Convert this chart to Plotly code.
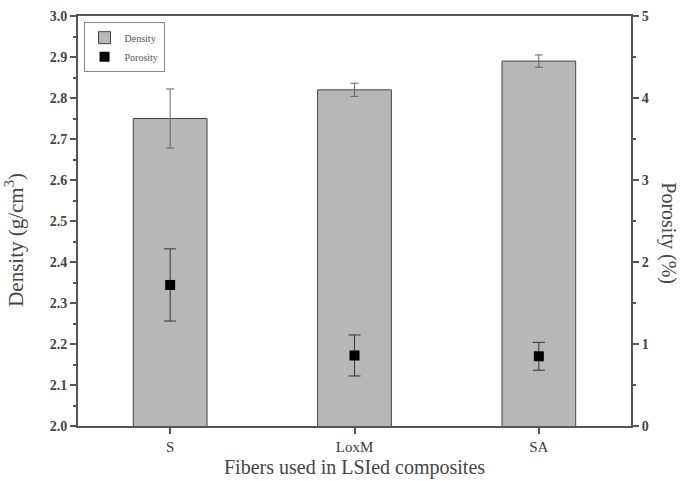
import plotly.graph_objects as go

fibers = ["S", "LoxM", "SA"]
density = [2.75, 2.82, 2.89]
density_err = [0.072, 0.016, 0.015]
porosity = [1.72, 0.86, 0.85]
porosity_err = [0.44, 0.25, 0.17]

font_family = "Liberation Serif, Times New Roman, serif"
axis_col = "#555555"
text_col = "#3a3a3a"

fig = go.Figure()
fig.add_trace(go.Bar(
    x=fibers, y=density, name="Density", width=0.4,
    marker=dict(color="#b7b7b7", line=dict(color="#444444", width=1)),
    error_y=dict(type="data", array=density_err, color="#666666", thickness=1, width=4),
    yaxis="y",
))
fig.add_trace(go.Scatter(
    x=fibers, y=porosity, name="Porosity", mode="markers",
    marker=dict(symbol="square", color="black", size=10),
    error_y=dict(type="data", array=porosity_err, color="#333333", thickness=1, width=6),
    yaxis="y2",
))

fig.update_layout(
    width=680, height=481,
    margin=dict(l=78, r=49, t=16, b=55),
    paper_bgcolor="white", plot_bgcolor="white",
    font=dict(family=font_family, color=text_col),
    showlegend=True,
    legend=dict(x=0.01, y=0.985, xanchor="left", yanchor="top",
                bordercolor="#888888", borderwidth=1, bgcolor="white",
                font=dict(size=10, family=font_family, color="#555555"), tracegroupgap=0,
                itemwidth=30),
    xaxis=dict(
        range=[-0.5, 2.5], showgrid=False, showline=True, linecolor=axis_col, linewidth=2,
        mirror=True, ticks="outside", ticklen=6, tickcolor=axis_col, tickwidth=1.5,
        tickfont=dict(size=15, family=font_family, color=text_col),
        minor=dict(ticks="outside", ticklen=3, tickcolor=axis_col, dtick=0.5, tick0=-0.5),
        zeroline=False, automargin=False,
    ),
    yaxis=dict(
        range=[2.0, 3.0], dtick=0.1, tickformat=".1f", showgrid=False, showline=True,
        linecolor=axis_col, linewidth=2, ticks="outside", ticklen=6, tickcolor=axis_col,
        tickwidth=1.5,
        tickfont=dict(size=14, family=font_family, color="#444444", weight="bold"),
        minor=dict(ticks="outside", ticklen=3, tickcolor=axis_col, dtick=0.05),
        zeroline=False, automargin=False,
    ),
    yaxis2=dict(
        range=[0, 5], dtick=1, overlaying="y", side="right", showgrid=False, showline=True,
        linecolor=axis_col, linewidth=2, ticks="outside", ticklen=6, tickcolor=axis_col,
        tickwidth=1.5,
        tickfont=dict(size=14, family=font_family, color="#444444", weight="bold"),
        minor=dict(ticks="outside", ticklen=3, tickcolor=axis_col, dtick=0.5),
        zeroline=False, automargin=False,
    ),
    annotations=[
        dict(text="Density (g/cm<sup>3</sup>)", textangle=-90, xref="paper", yref="paper",
             x=0, y=0.454, xshift=-63, xanchor="center", yanchor="middle", showarrow=False,
             font=dict(size=21, family=font_family, color="#444444")),
        dict(text="Porosity (%)", textangle=90, xref="paper", yref="paper",
             x=1.0, y=0.47, xshift=38, xanchor="center", yanchor="middle", showarrow=False,
             font=dict(size=20, family=font_family, color="#444444")),
        dict(text="Fibers used in LSIed composites", xref="paper", yref="paper",
             x=0.5, y=0, yshift=-55, xanchor="center", yanchor="bottom", showarrow=False,
             font=dict(size=20, family=font_family, color="#444444")),
    ],
)

fig.write_html("out.html")
